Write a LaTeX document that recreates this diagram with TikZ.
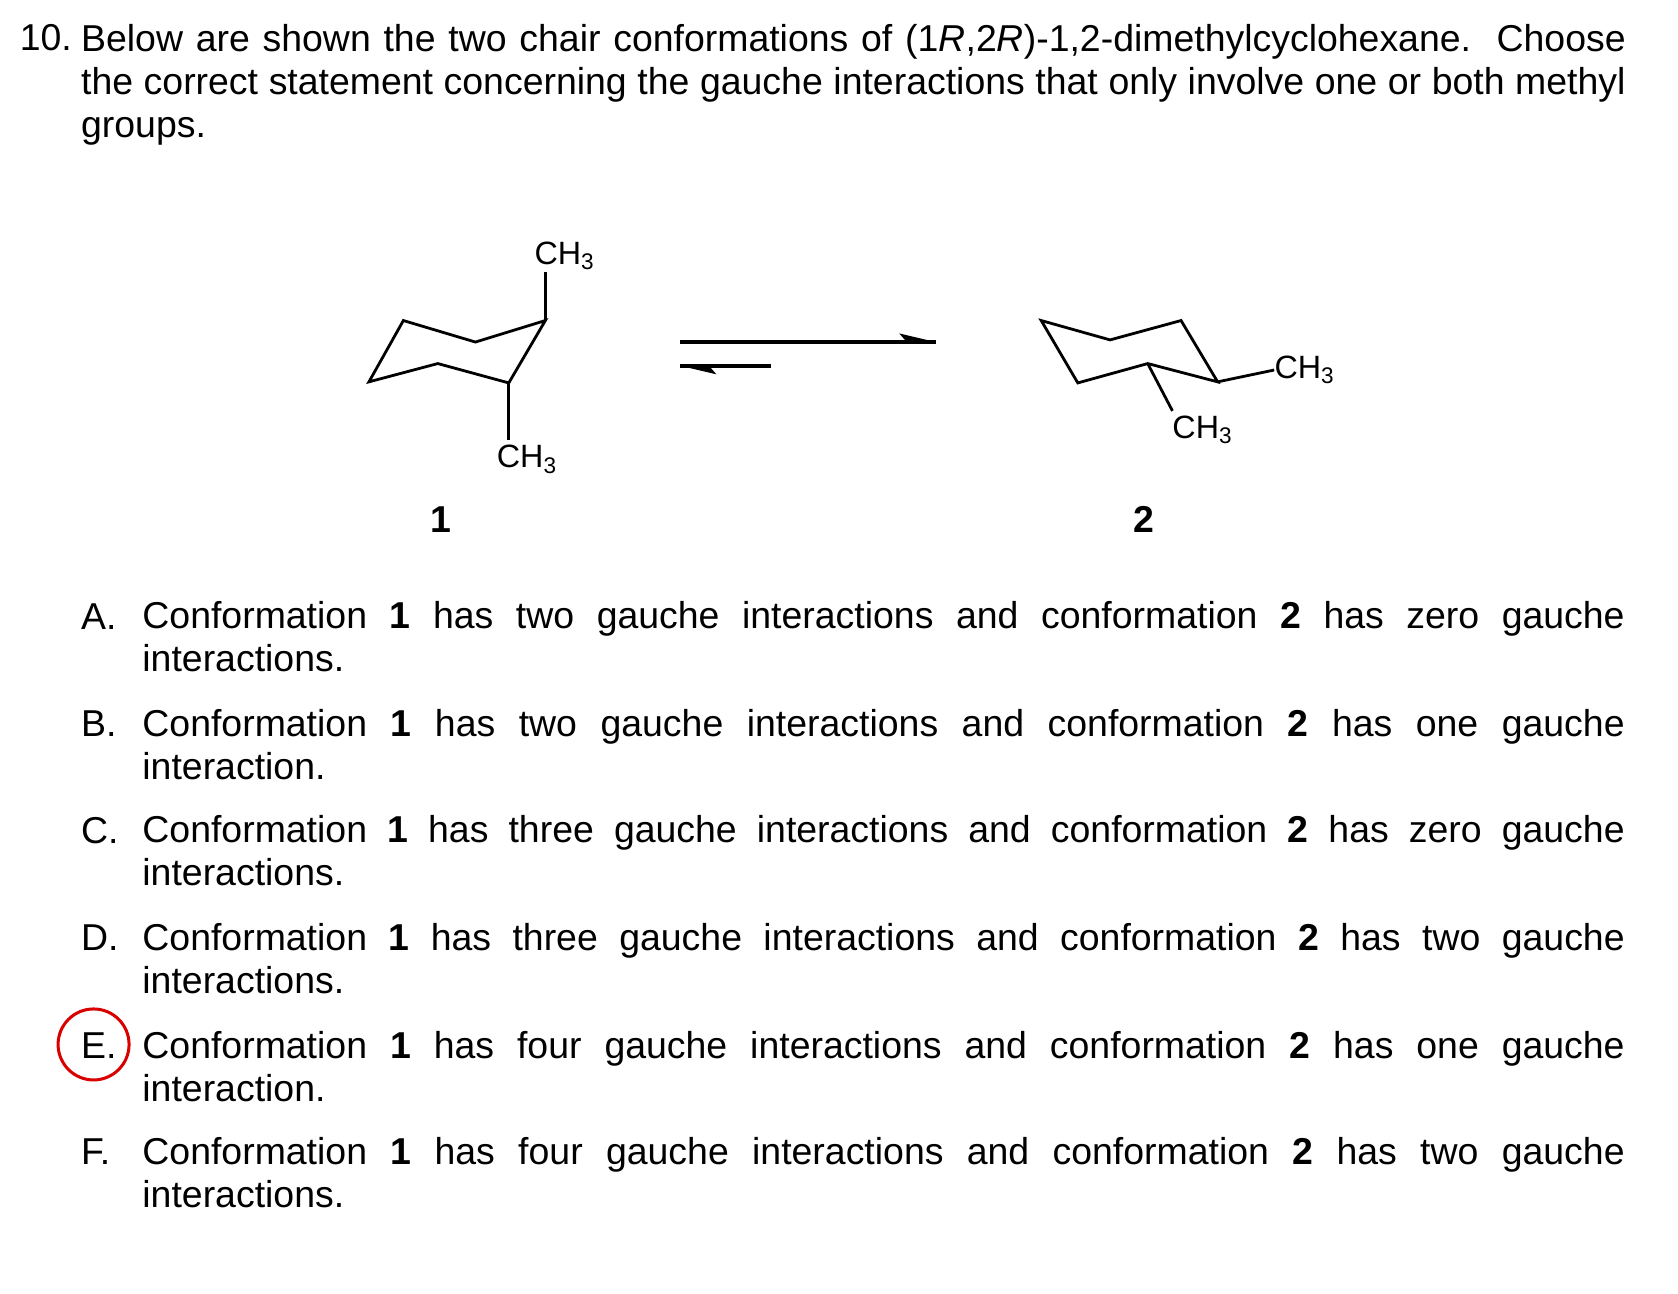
\documentclass[tikz,border=0pt]{standalone}
\usepackage{fontspec}
\setmainfont{Liberation Sans}
\usetikzlibrary{positioning}
\tikzset{
  bond/.style={line width=1.3pt, line join=miter},
  grp/.style={inner sep=0pt, font=\fontsize{15}{18}\selectfont},
  optlabel/.style={anchor=base west, inner sep=0pt},
  opttext/.style={anchor=north west, inner sep=0pt, text width=689pt, align=justify,
    font=\fontsize{17.4}{20}\selectfont},
}
\newcommand{\optnum}[1]{\textbf{#1}}
\newcommand{\methyl}{CH\textsubscript{3}}
\begin{document}
\begin{tikzpicture}[x=0.5pt, y=-0.5pt, every node/.append style={font=\fontsize{17.4}{20}\selectfont}]
  \useasboundingbox (0,0) rectangle (1560,1203);
  % question
  \node[optlabel] (qnum) at (18,47) {10.};
  \node[opttext, text width=718pt] (qtext) at (75,22)
    {\hyphenpenalty=10000 Below are shown the two chair conformations of (1\textit{R},2\textit{R})-1,2-dimethylcyclohexane.\ \ Choose\linebreak the correct statement concerning the gauche interactions that only involve one or both methyl\linebreak groups.};
  % conformation 1
  \coordinate (a1) at (343,355); \coordinate (a2) at (375,298); \coordinate (a3) at (442,318);
  \coordinate (a4) at (507,298); \coordinate (a5) at (473,356); \coordinate (a6) at (407,338);
  \draw[bond] (a1) -- (a2) -- (a3) -- (a4) -- (a5) -- (a6) -- cycle;
  \node[grp] (me1) at (525,238) {\methyl};
  \node[grp] (me2) at (490,427) {\methyl};
  \draw[bond] (a4) -- (507,253);
  \draw[bond] (a5) -- (473,409);
  \node (lab1) at (410,483) {\textbf{1}};
  % equilibrium arrows
  \coordinate (f1) at (632,318); \coordinate (f2) at (870,318);
  \coordinate (r1) at (717,340); \coordinate (r2) at (632,340);
  \draw[line width=2pt] (f1) -- (f2);
  \fill (f2) -- (836,310) -- (843,318) -- cycle;
  \draw[line width=2pt] (r1) -- (r2);
  \fill (r2) -- (666,348) -- (659,340) -- cycle;
  % conformation 2
  \coordinate (b1) at (968,298); \coordinate (b2) at (1032,316); \coordinate (b3) at (1098,298);
  \coordinate (b4) at (1132,355); \coordinate (b5) at (1067,338); \coordinate (b6) at (1002,356);
  \draw[bond] (b1) -- (b2) -- (b3) -- (b4) -- (b5) -- (b6) -- cycle;
  \node[grp] (me3) at (1213,344) {\methyl};
  \node[grp] (me4) at (1118,400) {\methyl};
  \draw[bond] (b4) -- (me3.west);
  \draw[bond] (b5) -- (1090,382);
  \node (lab2) at (1063,483) {\textbf{2}};
  % options
  \foreach \y/\l/\t in {
    573/A./{Conformation \optnum{1} has two gauche interactions and conformation \optnum{2} has zero gauche\linebreak interactions.},
    673/B./{Conformation \optnum{1} has two gauche interactions and conformation \optnum{2} has one gauche\linebreak interaction.},
    772/C./{Conformation \optnum{1} has three gauche interactions and conformation \optnum{2} has zero gauche\linebreak interactions.},
    872/D./{Conformation \optnum{1} has three gauche interactions and conformation \optnum{2} has two gauche\linebreak interactions.},
    972/E./{Conformation \optnum{1} has four gauche interactions and conformation \optnum{2} has one gauche\linebreak interaction.},
    1071/F./{Conformation \optnum{1} has four gauche interactions and conformation \optnum{2} has two gauche\linebreak interactions.}}{
    \node[optlabel] (opt\l) at (75,\y+12) {\l};
    \node[opttext] (txt\l) at (132,\y-14) {\hyphenpenalty=10000 \t};
  }
  \node[draw=red!85!black, line width=1.4pt, circle, minimum size=33pt, inner sep=0pt] (answer) at (87,971) {};
\end{tikzpicture}
\end{document}
